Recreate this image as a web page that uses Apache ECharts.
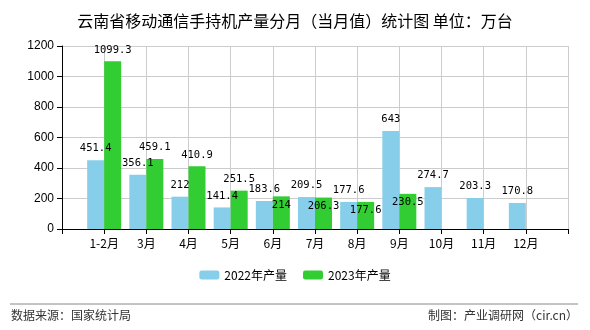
<!DOCTYPE html>
<html><head><meta charset="utf-8">
<script src="https://cdn.jsdelivr.net/npm/echarts@6/dist/echarts.min.js"></script>
<style>html,body{margin:0;padding:0;background:#fff}#c{width:590px;height:330px}</style>
</head><body><div id="c"></div>
<script>
const categories = ['1-2月','3月','4月','5月','6月','7月','8月','9月','10月','11月','12月'];
const values2022 = [451.4, 356.1, 212, 141.4, 183.6, 209.5, 177.6, 643, 274.7, 203.3, 170.8];
const values2023 = [1099.3, 459.1, 410.9, 251.5, 214, 206.3, 177.6, 230.5, null, null, null];
const insideLabel2023 = [false, false, false, false, true, true, true, true, false, false, false];
const yTicks = [0, 200, 400, 600, 800, 1000, 1200];

const cats = [''].concat(categories, ['']);
const d22 = [null].concat(values2022, [null]);
const d23 = [null].concat(values2023.map((v, i) => v == null ? null : (insideLabel2023[i] ? {value: v, label: {position: 'insideTop', distance: 3}} : v)), [null]);

const lblFont = {fontFamily: 'DejaVu Sans Mono, Liberation Mono, monospace', fontSize: 10.5, color: '#000'};
const chart = echarts.init(document.getElementById('c'));
chart.setOption({
  animation: false,
  backgroundColor: '#fff',
  title: {text: '云南省移动通信手持机产量分月（当月值）统计图 单位：万台', left: 'center', top: 8,
    textStyle: {fontSize: 16, fontWeight: 'normal', color: '#000', fontFamily: 'Noto Sans CJK SC'}},
  legend: {bottom: 44, itemWidth: 20, itemHeight: 9, itemGap: 16,
    textStyle: {fontSize: 12, color: '#000', fontFamily: 'Noto Sans CJK SC'},
    data: ['2022年产量', '2023年产量']},
  grid: {left: 62, right: 22, top: 46, bottom: 101, containLabel: false},
  xAxis: {type: 'category', data: cats, boundaryGap: false,
    axisLine: {lineStyle: {color: '#000'}}, axisTick: {show: true, lineStyle: {color: '#000'}},
    axisLabel: {color: '#000', fontSize: 12, fontFamily: 'Noto Sans CJK SC', interval: 0},
    splitLine: {show: true, lineStyle: {color: '#ccc'}}},
  yAxis: {type: 'value', min: yTicks[0], max: yTicks[yTicks.length - 1], interval: 200,
    axisLine: {show: true, lineStyle: {color: '#000'}}, axisTick: {show: true, lineStyle: {color: '#000'}},
    axisLabel: {color: '#000', fontSize: 12, fontFamily: 'Liberation Sans', formatter: v => String(v)},
    splitLine: {lineStyle: {color: '#ccc'}}},
  series: [
    {name: '2022年产量', type: 'bar', data: d22, barWidth: 17, barGap: '0%',
      itemStyle: {color: '#87CEEB'}, label: Object.assign({show: true, position: 'top', distance: 6}, lblFont)},
    {name: '2023年产量', type: 'bar', data: d23, barWidth: 17, barGap: '0%',
      itemStyle: {color: '#32CD32'}, label: Object.assign({show: true, position: 'top', distance: 6}, lblFont)}
  ],
  graphic: [
    {type: 'line', shape: {x1: 10, y1: 304, x2: 578, y2: 304}, style: {stroke: '#888', lineWidth: 1}},
    {type: 'text', left: 11, top: 309, style: {text: '数据来源：国家统计局', fontSize: 12, fill: '#333', fontFamily: 'Noto Sans CJK SC'}},
    {type: 'text', right: 12, top: 309, style: {text: '制图：产业调研网（cir.cn）', fontSize: 12, fill: '#333', fontFamily: 'Noto Sans CJK SC'}}
  ]
});
</script></body></html>
